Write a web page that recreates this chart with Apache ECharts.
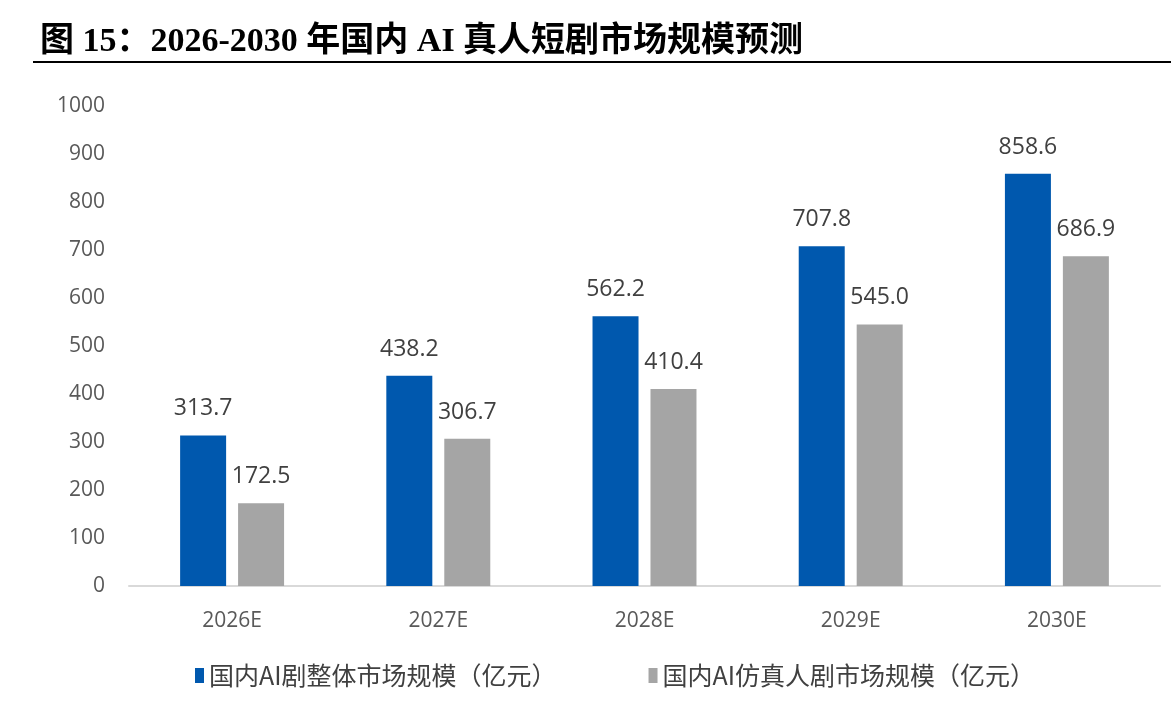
<!DOCTYPE html>
<html lang="zh">
<head>
  <meta charset="UTF-8">
  <title>AI 真人短剧市场规模预测</title>
  <style>
    html, body { margin: 0; padding: 0; background: #fff; }
    #chart { width: 1171px; height: 712px; }
  </style>
</head>
<body>
  <div id="chart"></div>
  <script src="https://cdn.jsdelivr.net/npm/echarts@6/dist/echarts.min.js"></script>
  <script>
    // 数据
    const categories = ['2026E', '2027E', '2028E', '2029E', '2030E'];
    const totalMarket = [313.7, 438.2, 562.2, 707.8, 858.6];
    const realPersonMarket = [172.5, 306.7, 410.4, 545.0, 686.9];
    const seriesNames = ['国内AI剧整体市场规模（亿元）', '国内AI仿真人剧市场规模（亿元）'];

    let chart = echarts.init(document.getElementById('chart'));

    let labelStyle = {
      show: true,
      position: 'top',
      distance: 15,
      fontSize: 23,
      color: '#404040',
      fontFamily: 'Open Sans, Noto Sans, sans-serif',
      formatter: p => p.value.toFixed(1)
    };

    let option = {
      animation: false,
      backgroundColor: '#fff',
      title: {
        text: '图 15：2026-2030 年国内 AI 真人短剧市场规模预测',
        left: 35,
        top: 20,
        textStyle: {
          fontSize: 34,
          fontWeight: 'bold',
          color: '#000',
          fontFamily: 'Liberation Serif, Noto Sans CJK SC, serif'
        }
      },
      graphic: [{
        type: 'line',
        shape: { x1: 33, y1: 62, x2: 1171, y2: 62 },
        style: { stroke: '#000', lineWidth: 2 }
      }],
      legend: {
        data: seriesNames,
        bottom: 19,
        left: 190,
        itemGap: 92,
        itemWidth: 9,
        itemHeight: 15,
        icon: 'rect',
        textStyle: {
          fontSize: 25,
          color: '#404040',
          fontFamily: 'Noto Sans CJK SC, sans-serif'
        }
      },
      grid: {
        left: 129,
        right: 11,
        top: 106,
        bottom: 126,
        containLabel: false
      },
      xAxis: {
        type: 'category',
        data: categories,
        axisLine: { lineStyle: { color: '#d9d9d9', width: 2 } },
        axisTick: { show: false },
        axisLabel: {
          fontSize: 21,
          color: '#595959',
          margin: 25,
          fontFamily: 'Open Sans, Noto Sans, sans-serif'
        }
      },
      yAxis: {
        type: 'value',
        min: 0,
        max: 1000,
        interval: 100,
        splitLine: { show: false },
        axisLine: { show: false },
        axisTick: { show: false },
        axisLabel: {
          fontSize: 21,
          color: '#595959',
          margin: 24,
          fontFamily: 'Open Sans, Noto Sans, sans-serif',
          formatter: v => String(v)
        }
      },
      series: [{
          name: seriesNames[0],
          type: 'bar',
          data: totalMarket,
          barWidth: 46,
          barGap: '26%',
          itemStyle: { color: '#0058AE' },
          label: labelStyle
        },
        {
          name: seriesNames[1],
          type: 'bar',
          data: realPersonMarket,
          barWidth: 46,
          barGap: '26%',
          itemStyle: { color: '#A5A5A5' },
          label: labelStyle
        }
      ]
    };
    chart.setOption(option);
  </script>
</body>
</html>
